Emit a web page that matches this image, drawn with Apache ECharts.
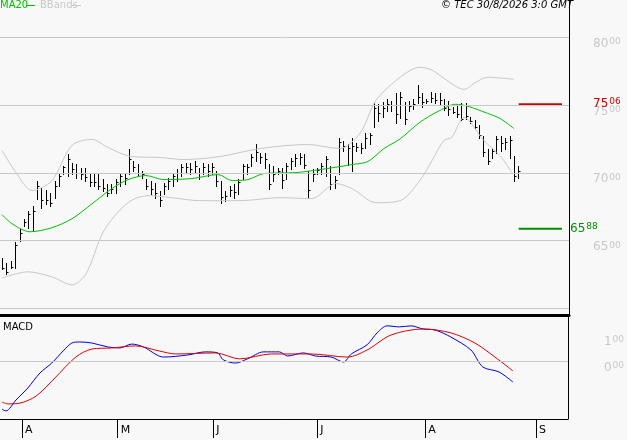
<!DOCTYPE html>
<html><head><meta charset="utf-8">
<script src="https://cdn.jsdelivr.net/npm/echarts@6/dist/echarts.min.js"></script>
<style>html,body{margin:0;padding:0;background:#f8f8f8}#c{width:627px;height:440px}</style>
</head><body><div id="c"></div>
<script>
const highs = [6372,6335,6350,6490,6587,6660,6720,6757,6942,6890,6875,6853,6942,6994,7053,7142,7075,7068,7038,7038,7001,6994,6994,6957,6920,6920,6957,6994,6994,7179,7090,7068,7016,6957,6942,6927,6868,6927,6964,7001,7031,
 7068,7075,7075,7090,7038,7075,7068,7075,7016,6942,6868,6905,6920,6957,7068,7068,7142,7216,7149,7149,7068,7053,7038,7038,7075,7112,7142,7149,7142,7016,7031,7038,7075,7127,7053,6979,7253,7238,7216,
 7253,7223,7223,7297,7297,7512,7505,7520,7542,7527,7586,7594,7520,7527,7542,7645,7586,7542,7594,7586,7586,7542,7527,7482,7497,7512,7512,7408,7386,7349,7275,7179,7186,7275,7275,7260,7275,7127,7053];
const lows = [6290,6253,6300,6300,6500,6610,6595,6572,6810,6742,6770,6757,6816,6905,6994,6979,6994,6964,6957,6942,6905,6905,6883,6868,6831,6853,6853,6905,6920,6994,7016,6979,6964,6883,6846,6816,6757,6846,6883,6905,6942,
 6979,7001,6994,7001,6957,6994,6979,6994,6905,6779,6794,6831,6816,6846,6957,6994,7053,7090,7075,7038,6883,6942,6994,6890,6957,7031,7053,7068,7038,6816,6942,6994,6994,6979,6883,6890,6994,7164,7060,
 7016,7164,7149,7186,7216,7335,7379,7409,7453,7453,7364,7401,7357,7453,7468,7512,7482,7512,7520,7512,7497,7460,7423,7438,7408,7386,7394,7364,7327,7260,7127,7068,7112,7149,7164,7179,7112,6942,6964];
const closes = [6300,6270,6310,6470,6560,6640,6700,6720,6900,6800,6800,6780,6900,6980,7040,7100,7030,7000,6990,6970,6930,6930,6900,6890,6850,6880,6930,6980,6960,7100,7040,7000,6990,6900,6880,6850,6800,6900,6940,6980,7000,
 7040,7040,7030,7050,7000,7040,7010,7040,6940,6820,6830,6870,6860,6930,7050,7040,7120,7150,7120,7100,6920,6990,7010,6950,7050,7090,7110,7120,7060,6870,6990,7020,7050,7100,6920,6950,7230,7200,7180,
 7200,7190,7180,7260,7280,7480,7440,7480,7510,7500,7430,7560,7400,7490,7510,7560,7520,7530,7550,7540,7540,7480,7470,7450,7430,7400,7420,7380,7340,7280,7150,7090,7160,7250,7220,7230,7240,6980,7010];
const ma20 = [[0,6692],[2.3,6625],[6.4,6566],[11.4,6596],[16,6662],[20.6,6773],[25.1,6884],[28.8,6950],[32.9,6980],[37,6950],[43.4,6958],[49.4,6987],[52.6,6943],[56.2,6950],[59.9,6995],[67.2,7002],[72.7,7024],[77.2,7046],[80,7061],[83.6,7083],[87.3,7179],[91,7250],[95.5,7372],[100.1,7460],[103.7,7505],[106.5,7490],[111,7438],[113.8,7401],[117,7327]];
const bbUpper = [[0,7165],[3.2,7002],[6.9,6869],[11.4,6943],[16,7202],[20.6,7246],[24.2,7187],[29.7,7120],[36.1,7113],[41.6,7098],[49.8,7120],[59,7179],[69.9,7209],[77.2,7179],[81.8,7290],[85.5,7534],[91,7704],[95.5,7778],[98.3,7756],[101,7697],[105.6,7615],[108.3,7667],[111,7704],[117,7689]];
const bbLower = [[0,6226],[5.9,6271],[11.4,6234],[16,6175],[19.2,6256],[23.3,6574],[28.8,6780],[33.4,6832],[38.8,6817],[45.2,6795],[54.4,6795],[63.5,6817],[70.8,6810],[76.3,6921],[80,6884],[85.5,6780],[91,6795],[95.5,6943],[98.3,7091],[101,7239],[102.8,7261],[105.6,7408],[110.1,7239],[113.8,7128],[116.5,7002]];
const macd = [[0,-1.85],[0.9,-1.92],[3.2,-1.5],[5.9,-1.04],[8.7,-0.46],[11.4,-0.08],[14.2,0.42],[16,0.69],[17.8,0.73],[20.6,0.69],[24.2,0.54],[27,0.5],[29.7,0.65],[32.4,0.54],[37,0.15],[42.5,0.23],[46.6,0.35],[49.4,0.31],[50.7,0.04],[53.5,-0.08],[56.2,0.08],[59.9,0.35],[63.5,0.35],[65.4,0.19],[69,0.31],[71.8,0.19],[75.4,0.15],[78.2,-0.04],[80,0.27],[83.6,0.62],[85.9,1.08],[88.2,1.35],[91,1.31],[93.7,1.35],[96.4,1.23],[99.2,1.19],[102.8,0.92],[107.4,0.42],[110.1,-0.23],[113.8,-0.42],[117,-0.81]];
const signal = [[0,-1.58],[1.4,-1.65],[4.1,-1.62],[7.8,-1.35],[12.3,-0.62],[16.9,0.15],[20.6,0.46],[25.1,0.5],[30.6,0.58],[36.1,0.38],[39.8,0.27],[48.9,0.31],[54.4,0.08],[61.7,0.27],[70.8,0.27],[79.1,0.15],[83.6,0.42],[89.1,1.0],[96.4,1.23],[102.8,1.08],[108.3,0.69],[112.9,0.15],[117,-0.38]];
const resistance = 7506, support = 6588;
const levelRange = [118.1, 128];
const priceTicks = [6500,7000,7500,8000];
const priceGrid = [6000,6500,7000,7500,8000];
const macdTicks = [0,1];
const monthPos = [4.57,26.5,48.4,72.2,96.9,122.3];
const monthLabels = ['A','M','J','J','A','S'];

const ohlc = highs.map((h,i)=>[i,h,lows[i],closes[i]]);
const XMIN=-0.46, XMAX=129.6;
const supFmt = v => { const s=(v/100).toFixed(2).split('.'); return '{a|'+s[0]+'}{b|'+s[1]+'}'; };
const rich = (c)=>({a:{fontSize:12,color:c,fontFamily:'DejaVu Sans'},b:{fontSize:9,color:c,fontFamily:'DejaVu Sans',verticalAlign:'top',padding:[0,0,4,1]}});
const chart = echarts.init(document.getElementById('c'));
chart.setOption({
  backgroundColor:'#f8f8f8', animation:false,
  grid:[{left:0,right:58,top:0,height:315},{left:0,right:58,top:317,height:102}],
  xAxis:[
    {type:'value',gridIndex:0,min:XMIN,max:XMAX,axisLabel:{show:false},axisTick:{show:false},splitLine:{show:false},axisLine:{onZero:false,lineStyle:{color:'#000',width:3}}},
    {type:'value',gridIndex:1,min:XMIN,max:XMAX,splitLine:{show:false},axisLine:{onZero:false,lineStyle:{color:'#000',width:1}},
     axisTick:{customValues:monthPos,length:19,lineStyle:{color:'#000'}},
     axisLabel:{customValues:monthPos,formatter:v=>monthLabels[monthPos.indexOf(v)],align:'left',padding:[0,0,0,3],margin:6,color:'#000',fontSize:11,fontFamily:'DejaVu Sans'}}
  ],
  yAxis:[
    {type:'value',gridIndex:0,position:'right',min:5953,max:8273,splitLine:{show:false},axisTick:{show:false},axisLine:{show:true,onZero:false,lineStyle:{color:'#000'}},
     axisLabel:{customValues:priceTicks,margin:24,align:'left',verticalAlign:'top',formatter:v=>{const s=String(v);return '{a|'+s.slice(0,2)+'}{b|'+s.slice(2)+'}';},rich:rich('#c8c8c8')}},
    {type:'value',gridIndex:1,position:'right',min:-2.23,max:1.69,splitLine:{show:false},axisTick:{show:false},axisLine:{show:true,onZero:false,lineStyle:{color:'#000'}},
     axisLabel:{customValues:macdTicks,margin:36,align:'left',verticalAlign:'top',formatter:v=>'{a|'+v+'}{b|00}',rich:rich('#c8c8c8')}}
  ],
  series:[
    {type:'line',xAxisIndex:0,yAxisIndex:0,data:bbUpper,symbol:'none',smooth:0.3,lineStyle:{color:'#c8c8c8',width:1},
     markLine:{silent:true,symbol:'none',label:{show:false},lineStyle:{color:'#c8c8c8',width:1,type:'solid'},data:priceGrid.map(v=>({yAxis:v}))}},
    {type:'line',xAxisIndex:0,yAxisIndex:0,data:bbLower,symbol:'none',smooth:0.3,lineStyle:{color:'#c8c8c8',width:1}},
    {type:'line',xAxisIndex:0,yAxisIndex:0,data:ma20,symbol:'none',smooth:0.3,lineStyle:{color:'#00c000',width:1}},
    {type:'custom',xAxisIndex:0,yAxisIndex:0,data:ohlc,encode:{x:0,y:[1,2,3]},
     renderItem:(p,api)=>{const x=api.value(0);const h=api.coord([x,api.value(1)]),l=api.coord([x,api.value(2)]),c=api.coord([x,api.value(3)]);
       const px=Math.round(h[0])+0.5, cy=Math.round(c[1])+0.5;
       return {type:'group',children:[
         {type:'line',shape:{x1:px,y1:Math.round(h[1]),x2:px,y2:Math.round(l[1])+1},style:{stroke:'#000',lineWidth:1}},
         {type:'line',shape:{x1:px,y1:cy,x2:px+2,y2:cy},style:{stroke:'#000',lineWidth:1}}]};}},
    {type:'line',xAxisIndex:0,yAxisIndex:0,data:levelRange.map(x=>[x,resistance]),symbol:'none',lineStyle:{color:'#d00000',width:2},
     endLabel:{show:true,distance:31,formatter:()=>supFmt(resistance),rich:rich('#d00000')}},
    {type:'line',xAxisIndex:0,yAxisIndex:0,data:levelRange.map(x=>[x,support]),symbol:'none',lineStyle:{color:'#009000',width:2},
     endLabel:{show:true,distance:8,formatter:()=>supFmt(support),rich:rich('#009000')}},
    {type:'line',xAxisIndex:1,yAxisIndex:1,data:macd,symbol:'none',smooth:0.3,lineStyle:{color:'#0000e0',width:1},
     markLine:{silent:true,symbol:'none',label:{show:false},lineStyle:{color:'#c8c8c8',width:1,type:'solid'},data:[{yAxis:0}]}},
    {type:'line',xAxisIndex:1,yAxisIndex:1,data:signal,symbol:'none',smooth:0.3,lineStyle:{color:'#e00000',width:1}}
  ],
  graphic:[
    {type:'text',left:0,top:0,style:{text:'MA20',fill:'#00c000',font:'10px DejaVu Sans'}},
    {type:'line',shape:{x1:26,y1:5.5,x2:35,y2:5.5},style:{stroke:'#00c000',lineWidth:1}},
    {type:'text',left:40,top:0,style:{text:'BBands',fill:'#c8c8c8',font:'10px DejaVu Sans'}},
    {type:'line',shape:{x1:71,y1:5.5,x2:81,y2:5.5},style:{stroke:'#c8c8c8',lineWidth:1}},
    {type:'text',right:54,top:0,style:{text:'© TEC 30/8/2026 3:0 GMT',fill:'#000',font:'italic 10px DejaVu Sans'}},
    {type:'text',left:3,top:322,style:{text:'MACD',fill:'#000',font:'10px DejaVu Sans'}}
  ]
});
</script></body></html>
